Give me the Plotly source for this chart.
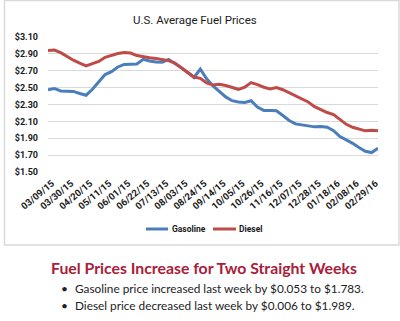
import plotly.graph_objects as go

# ---- data ----
date_labels = ["03/09/15", "03/30/15", "04/20/15", "05/11/15", "06/01/15", "06/22/15",
               "07/13/15", "08/03/15", "08/24/15", "09/14/15", "10/05/15", "10/26/15",
               "11/16/15", "12/07/15", "12/28/15", "01/18/16", "02/08/16", "02/29/16"]

gasoline = [2.475, 2.490, 2.460, 2.460, 2.455, 2.430, 2.410, 2.480, 2.570, 2.655,
            2.690, 2.745, 2.775, 2.780, 2.780, 2.835, 2.815, 2.805, 2.800, 2.835,
            2.790, 2.735, 2.680, 2.620, 2.720, 2.605, 2.520, 2.450, 2.390, 2.345,
            2.330, 2.325, 2.345, 2.270, 2.230, 2.230, 2.225, 2.170, 2.110, 2.070,
            2.060, 2.050, 2.035, 2.040, 2.030, 1.990, 1.920, 1.880, 1.840, 1.790,
            1.745, 1.730, 1.783]

diesel = [2.940, 2.946, 2.915, 2.865, 2.825, 2.790, 2.757, 2.785, 2.810, 2.860,
          2.885, 2.905, 2.915, 2.910, 2.880, 2.865, 2.855, 2.845, 2.835, 2.820,
          2.790, 2.735, 2.675, 2.625, 2.610, 2.555, 2.530, 2.540, 2.525, 2.505,
          2.480, 2.505, 2.560, 2.535, 2.505, 2.485, 2.500, 2.475, 2.440, 2.410,
          2.370, 2.330, 2.275, 2.235, 2.205, 2.180, 2.120, 2.065, 2.030, 2.005,
          1.988, 1.995, 1.989]

y_ticks = [1.50, 1.70, 1.90, 2.10, 2.30, 2.50, 2.70, 2.90, 3.10]

series_names = ["Gasoline", "Diesel"]
series_colors = ["#4A7EBB", "#BE4B48"]

headline = "Fuel Prices Increase for Two Straight Weeks"
bullets = ["Gasoline price increased last week by $0.053 to $1.783.",
           "Diesel price decreased last week by $0.006 to $1.989."]

# ---- figure ----
W, H = 400, 321
L, R, T, B = 48, 22, 37, 149
pw, ph = W - L - R, H - T - B

def px(x):
    return (x - L) / pw

def py(y):
    return (H - B - y) / ph

idx = list(range(len(gasoline)))
tick_idx = list(range(0, len(gasoline), 3))[:len(date_labels)]

cond = "Roboto, Liberation Sans, sans-serif"
body = "Lato, Open Sans, sans-serif"
tick_font = dict(family=cond, size=9, color="#1a1a1a", weight="bold")

fig = go.Figure()
for name, vals, col in zip(series_names, [gasoline, diesel], series_colors):
    fig.add_trace(go.Scatter(x=idx, y=vals, mode="lines", name=name,
                             line=dict(color=col, width=3), showlegend=False))

fig.update_layout(
    width=W, height=H,
    margin=dict(l=L, r=R, t=T, b=B, pad=0),
    paper_bgcolor="white", plot_bgcolor="white",
    xaxis=dict(range=[0, len(gasoline) - 1], tickmode="array", tickvals=tick_idx,
               ticktext=date_labels, tickangle=-40,
               tickfont=dict(family=cond, size=9.5, color="#1a1a1a", weight="bold"),
               showgrid=False, zeroline=False, showline=False, ticks="",
               ticklabelstandoff=3, ticklabelshift=4),
    yaxis=dict(range=[1.50, 3.10], tickmode="array", tickvals=y_ticks,
               ticktext=["$%.2f" % v for v in y_ticks], tickfont=tick_font,
               showgrid=True, gridcolor="#D9D9D9", gridwidth=1, zeroline=False,
               showline=False, ticks="", ticklabelstandoff=9),
)

# chart border box
fig.add_shape(type="rect", xref="paper", yref="paper",
              x0=px(4.5), x1=px(399), y0=py(245), y1=py(0.5),
              line=dict(color="#D9D9D9", width=1.5), fillcolor="rgba(0,0,0,0)", layer="below")

annotations = [
    dict(text="U.S. Average Fuel Prices", x=px(195), y=py(20), xref="paper", yref="paper",
         showarrow=False, xanchor="center", yanchor="middle",
         font=dict(family=cond, size=11.5, color="#1a1a1a")),
    dict(text="<b>" + headline + "</b>", x=px(204), y=py(267), xref="paper", yref="paper",
         showarrow=False, xanchor="center", yanchor="middle",
         font=dict(family=body, size=15.8, color="#A8203A")),
]

# legend (drawn manually to match compact sample lines)
leg_y = 229
leg_items = [(146, 168, 171), (213, 236, 238)]
for (x0, x1, tx), name, col in zip(leg_items, series_names, series_colors):
    fig.add_shape(type="line", xref="paper", yref="paper",
                  x0=px(x0), x1=px(x1), y0=py(leg_y), y1=py(leg_y),
                  line=dict(color=col, width=3))
    annotations.append(dict(text="<b>" + name + "</b>", x=px(tx), y=py(leg_y), xref="paper",
                            yref="paper", showarrow=False, xanchor="left", yanchor="middle",
                            borderpad=0,
                            font=dict(family=cond, size=8.5, color="#1a1a1a")))

for i, b in enumerate(bullets):
    yy = 288 + i * 17
    annotations.append(dict(text="•", x=px(59), y=py(yy), xref="paper", yref="paper",
                            showarrow=False, xanchor="left", yanchor="middle",
                            font=dict(family=body, size=12, color="#222222")))
    annotations.append(dict(text=b, x=px(73), y=py(yy), xref="paper", yref="paper",
                            showarrow=False, xanchor="left", yanchor="middle",
                            font=dict(family=body, size=11.8, color="#222222")))
fig.update_layout(annotations=annotations)

fig.write_html("out.html")
